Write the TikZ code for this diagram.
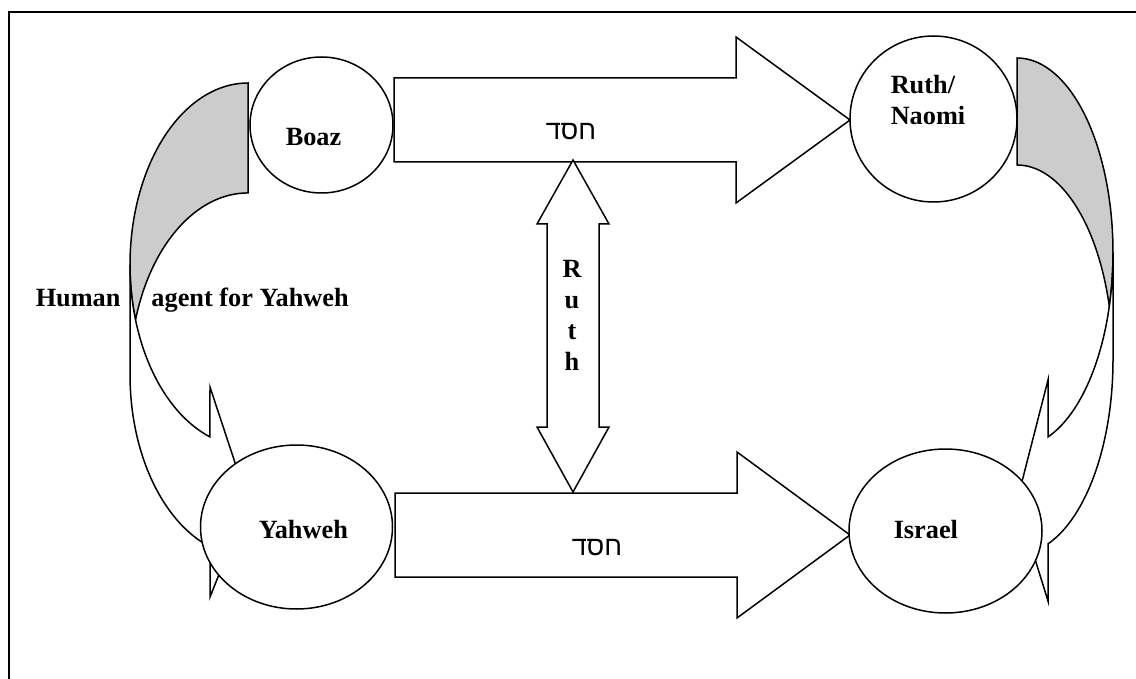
\documentclass[tikz,border=0pt]{standalone}
\usepackage{fontspec}
\setmainfont{Liberation Serif}
\newfontfamily\hebfont[Script=Hebrew]{Liberation Sans}
\TeXXeTstate=1
\usetikzlibrary{shapes.geometric}
\begin{document}
\begin{tikzpicture}[x=1pt,y=-1pt,
  line width=1.5pt, line join=miter,
  blob/.style={ellipse, draw, fill=white, inner sep=0pt},
  lbl/.style={font=\fontsize{26.3}{31}\selectfont\bfseries, inner sep=0pt},
  heb/.style={font=\fontsize{27}{31}\selectfont\hebfont, inner sep=0pt},
  band/.style={draw, fill=white},
  back/.style={draw, fill=black!20}]
\useasboundingbox (0,0) rectangle (1136,679);
% frame (cell border)
\coordinate (fb) at (9,679);
\coordinate (fc) at (9,12);
\coordinate (fr) at (1136,12);
\draw[line width=2pt] (fb) -- (fc) -- (fr);

% left curved arrow (Boaz -> Yahweh)
\draw[back] (248,83) arc[start angle=270, end angle=162.4, x radius=118, y radius=181.8]
  arc[start angle=197.6, end angle=270, x radius=118, y radius=181.8] -- cycle;
\draw[band] (130,264.8) arc[start angle=180, end angle=108.8, x radius=118, y radius=181.8]
  -- (210,387) -- (248,502) -- (210,597) -- (210,546.9)
  arc[start angle=108.8, end angle=180, x radius=118, y radius=181.8] -- cycle;

% right curved arrow (Ruth/Naomi -> Israel)
\draw[back] (1017,58) arc[start angle=270, end angle=375.95, x radius=96, y radius=194.7]
  arc[start angle=344.05, end angle=270, x radius=96, y radius=194.7] -- cycle;
\draw[band] (1113,252.7) arc[start angle=0, end angle=71.16, x radius=96, y radius=194.7]
  -- (1048,380) -- (1017,501) -- (1048,601) -- (1048,543.9)
  arc[start angle=71.16, end angle=0, x radius=96, y radius=194.7] -- cycle;

% horizontal block arrows
\draw[band] (394,78) -- (736,78) -- (736,37) -- (850,120) -- (736,203) -- (736,162) -- (394,162) -- cycle;
\draw[band] (395,493) -- (737,493) -- (737,452) -- (850,535) -- (737,618) -- (737,577) -- (395,577) -- cycle;

% vertical double arrow
\draw[band] (573,160) -- (609,224) -- (599,224) -- (599,427) -- (609,427) -- (573,492)
  -- (537,427) -- (547,427) -- (547,224) -- (537,224) -- cycle;

% ovals
\node[blob, minimum width=143pt, minimum height=136pt] (boaz) at (321.5,125) {};
\node[blob, minimum width=167pt, minimum height=166pt] (ruth) at (933.5,119) {};
\node[blob, minimum width=192pt, minimum height=164pt] (yahweh) at (296.5,527) {};
\node[blob, minimum width=193pt, minimum height=164pt] (israel) at (945.5,531) {};

% texts
\node[lbl, anchor=base west] (tboaz) at (285,146) {Boaz};
\node[lbl, anchor=north west, align=left] (truth) at (890,74.6) {Ruth/\\Naomi};
\node[lbl, anchor=base west] (tyah) at (258,538) {Yahweh};
\node[lbl, anchor=base west] (tisr) at (893,538) {Israel};
\node[lbl, anchor=base west] (thuman) at (35,307) {Human\hspace{31pt}agent for Yahweh};
\node[lbl, anchor=north, align=center] (truthv) at (572,259.5) {R\\u\\t\\h};
\node[heb] (hesed1) at (571,132) {\beginR חסד\endR};
\node[heb] (hesed2) at (597,548) {\beginR חסד\endR};
\end{tikzpicture}
\end{document}
